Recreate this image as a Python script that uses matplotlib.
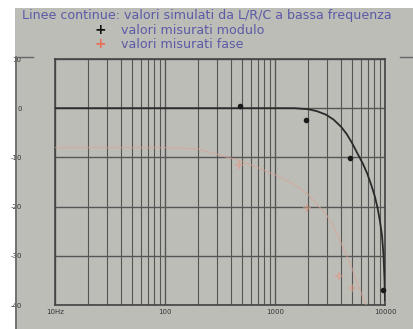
import matplotlib.pyplot as plt
import matplotlib.lines as mlines
import matplotlib.patches as mpatches

# simulated module (dB)
sim_freq = [10, 100, 200, 500, 1000, 1500, 2000, 2400, 2900, 3400, 4000, 4500, 5000, 5500,
            6300, 6900, 7600, 8100, 8600, 9000, 9400, 9700, 9900, 10000]
sim_mod = [0, 0, 0, 0, 0, 0, -0.2, -0.6, -1.3, -2.3, -3.8, -5.3, -7.0, -8.8,
           -11.3, -13.3, -16.0, -18.0, -20.5, -23.0, -26.0, -30.0, -35.0, -39.0]

# simulated phase (faint line)
sim_phase = [-8.0, -8.0, -8.3, -10.8, -13.5, -15.5, -17.5, -19.5, -21.5, -24.0, -27.5, -30.0, -32.5, -35.0,
             -38.5, -40.5, -43.5, -45.0, -46.5, -48.0, -49.0, -50.0, -51.0, -52.0]

# measured points
meas_freq = [480, 1900, 4800, 9600]
meas_mod = [0.5, -2.5, -10.2, -37.0]
phase_freq = [470, 1950, 3800, 5000]
meas_phase = [-11.5, -20.2, -34.2, -36.6]

y_ticks = [10, 0, -10, -20, -30, -40]
y_labels = ['10', '0', '-10', '-20', '-30', '-40']
x_ticks = [10, 100, 1000, 10000]
x_labels = ['10Hz', '100', '1000', '10000']

W, H = 414, 329
bg = '#bdbdb8'
grid_c = '#555555'
txt_c = '#5b5aa6'

fig = plt.figure(figsize=(W / 100, H / 100), dpi=100, facecolor='white')

# gray scanned panel
fig.patches.append(mpatches.Rectangle((15 / W, 0), 1 - 15 / W, 1 - 8 / H,
                                      transform=fig.transFigure, facecolor=bg,
                                      edgecolor='none', zorder=-5))
fig.lines.append(mlines.Line2D([16 / W, 16 / W], [0, 1 - 57 / H], transform=fig.transFigure,
                               color='#666666', lw=1.2))
fig.lines.append(mlines.Line2D([16 / W, 33 / W], [1 - 57 / H, 1 - 57 / H], transform=fig.transFigure,
                               color='#666666', lw=1.0))
fig.lines.append(mlines.Line2D([400 / W, 1], [1 - 57 / H, 1 - 57 / H], transform=fig.transFigure,
                               color='#666666', lw=1.0))

ax = fig.add_axes([55 / W, 24 / H, 330 / W, 246 / H])
ax.set_zorder(2)
ax.set_facecolor(bg)
ax.set_xscale('log')
ax.set_xlim(10, 10000)
ax.set_ylim(-40, 10)

ax.grid(True, which='major', axis='both', color=grid_c, lw=1.0)
ax.grid(True, which='minor', axis='x', color=grid_c, lw=0.8)

ax.plot(sim_freq, sim_phase, color='#d8a596', lw=1.0, alpha=0.6, zorder=3)
ax.plot(sim_freq, sim_mod, color='#2a2a2a', lw=1.3, zorder=4)
ax.plot(meas_freq, meas_mod, 'o', color='#1a1a1a', ms=3, zorder=5, clip_on=False)
ax.plot(phase_freq, meas_phase, '+', color='#e09a84', ms=6, mew=1.5, alpha=0.55, zorder=5)

ax.set_xticks(x_ticks)
ax.set_xticklabels(x_labels, fontsize=5, color='#333333')
ax.set_yticks(y_ticks)
ax.set_yticklabels(y_labels, fontsize=5, color='#333333')
ax.tick_params(axis='both', which='both', length=0)
ax.tick_params(axis='y', pad=24)
ax.tick_params(axis='x', pad=3)
for s in ax.spines.values():
    s.set_color('#444444')
    s.set_linewidth(1.2)

fig.text(22 / W, 1 - 16 / H, 'Linee continue: valori simulati da L/R/C a bassa frequenza',
         fontsize=9.1, color=txt_c, va='center', ha='left')
fig.text(100 / W, 1 - 30 / H, '+', fontsize=10, fontweight='bold', color='#111111',
         va='center', ha='center')
fig.text(121 / W, 1 - 30 / H, 'valori misurati modulo', fontsize=9.1, color=txt_c,
         va='center', ha='left')
fig.text(100 / W, 1 - 44 / H, '+', fontsize=10, fontweight='bold', color='#e8705a',
         va='center', ha='center')
fig.text(121 / W, 1 - 44 / H, 'valori misurati fase', fontsize=9.1, color=txt_c,
         va='center', ha='left')

fig.savefig('out.png', dpi=100, facecolor='white')
